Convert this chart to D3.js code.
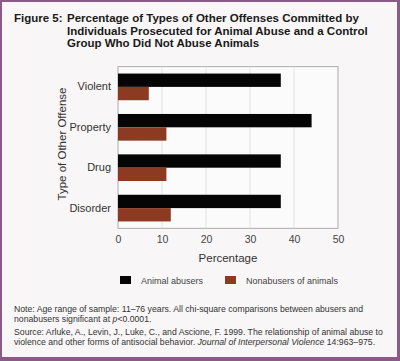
<!DOCTYPE html>
<html>
<head>
<meta charset="utf-8">
<script src="https://cdn.jsdelivr.net/npm/d3@7"></script>
<style>
  body { margin: 0; background: #fff; }
  svg { display: block; font-family: "Liberation Sans", Arial, sans-serif; }
</style>
</head>
<body>
<div id="chart"></div>
<script>
// values
var offenses = ["Violent", "Property", "Drug", "Disorder"];
var abusers = [37, 44, 37, 37];
var nonabusers = [7, 11, 11, 12];
var xTicks = [0, 10, 20, 30, 40, 50];
var seriesNames = ["Animal abusers", "Nonabusers of animals"];

var W = 400, H = 361;
var colors = ["#050505", "#8c3a22"];

var svg = d3.select("#chart").append("svg").attr("width", W).attr("height", H);

// page + purple frame
svg.append("rect").attr("x", 0).attr("y", 0).attr("width", W).attr("height", H).attr("fill", "#8a5a88");
svg.append("rect").attr("x", 2).attr("y", 2).attr("width", W - 5).attr("height", H - 6).attr("fill", "#f8f6f6");

// title
var title = svg.append("text").attr("font-size", "11.5px").attr("font-weight", "bold").attr("fill", "#1a1a1a");
title.append("tspan").attr("x", 14).attr("y", 22).text("Figure 5:");
title.append("tspan").attr("x", 67).attr("y", 22).text("Percentage of Types of Other Offenses Committed by");
title.append("tspan").attr("x", 67).attr("y", 34.5).text("Individuals Prosecuted for Animal Abuse and a Control");
title.append("tspan").attr("x", 67).attr("y", 47).text("Group Who Did Not Abuse Animals");

var m = {left: 118, right: 338, top: 66.7, bottom: 228.3};
var x = d3.scaleLinear().domain([0, 50]).range([m.left, m.right]);
var y = d3.scaleBand().domain(offenses).range([m.top, m.bottom]).paddingInner(0.34).paddingOuter(0.17);
var sub = d3.scaleBand().domain([0, 1]).range([0, y.bandwidth()]);

var g = svg.append("g");

// plot background and grid
g.append("rect").attr("x", m.left).attr("y", m.top).attr("width", m.right - m.left).attr("height", m.bottom - m.top)
  .attr("fill", "#fcfbfb").attr("stroke", "#9a9a9a").attr("stroke-width", 0.8);
g.selectAll(".grid").data(xTicks.slice(1, -1)).enter().append("line")
  .attr("x1", function (d) { return x(d); }).attr("x2", function (d) { return x(d); })
  .attr("y1", m.top).attr("y2", m.bottom)
  .attr("stroke", "#dddddd").attr("stroke-width", 0.8);

// bars
var rows = offenses.map(function (o, i) { return {name: o, vals: [abusers[i], nonabusers[i]]}; });
var grp = g.selectAll(".row").data(rows).enter().append("g")
  .attr("transform", function (d) { return "translate(0," + y(d.name) + ")"; });
grp.selectAll("rect").data(function (d) { return d.vals; }).enter().append("rect")
  .attr("x", x(0))
  .attr("y", function (d, i) { return sub(i); })
  .attr("width", function (d) { return x(d) - x(0); })
  .attr("height", sub.bandwidth())
  .attr("fill", function (d, i) { return colors[i]; });

// y axis category labels
var yAxis = d3.axisLeft(y).tickSize(0).tickPadding(7);
var ya = svg.append("g").attr("transform", "translate(" + m.left + ",0)").call(yAxis);
ya.select(".domain").remove();
ya.selectAll("text").attr("font-size", "11px").attr("fill", "#333").attr("font-family", "Liberation Sans, Arial, sans-serif");

// x axis
var xAxis = d3.axisBottom(x).tickValues(xTicks).tickSize(0).tickPadding(7);
var xa = svg.append("g").attr("transform", "translate(0," + m.bottom + ")").call(xAxis);
xa.select(".domain").remove();
xa.selectAll("text").attr("font-size", "10.5px").attr("fill", "#444").attr("font-family", "Liberation Sans, Arial, sans-serif");

svg.append("text").attr("x", (m.left + m.right) / 2).attr("y", 262).attr("text-anchor", "middle")
  .attr("font-size", "11.5px").attr("fill", "#333").text("Percentage");
svg.append("text").attr("transform", "translate(66,144) rotate(-90)").attr("text-anchor", "middle")
  .attr("font-size", "11.5px").attr("fill", "#333").text("Type of Other Offense");

// legend
var legX = [120, 225];
var leg = svg.selectAll(".leg").data(seriesNames).enter().append("g")
  .attr("transform", function (d, i) { return "translate(" + legX[i] + ",276)"; });
leg.append("rect").attr("width", 11).attr("height", 8).attr("fill", function (d, i) { return colors[i]; });
leg.append("text").attr("x", 21).attr("y", 7.5).attr("font-size", "9px").attr("fill", "#444").text(function (d) { return d; });

// notes
var notes = svg.append("text").attr("font-size", "8.7px").attr("fill", "#333");
notes.append("tspan").attr("x", 14).attr("y", 312).text("Note: Age range of sample: 11\u201376 years. All chi-square comparisons between abusers and");
var n2 = notes.append("tspan").attr("x", 14).attr("y", 322);
n2.append("tspan").text("nonabusers significant at ");
n2.append("tspan").attr("font-style", "italic").text("p");
n2.append("tspan").text("<0.0001.");
notes.append("tspan").attr("x", 14).attr("y", 335).text("Source: Arluke, A., Levin, J., Luke, C., and Ascione, F. 1999. The relationship of animal abuse to");
var n4 = notes.append("tspan").attr("x", 14).attr("y", 345);
n4.append("tspan").text("violence and other forms of antisocial behavior. ");
n4.append("tspan").attr("font-style", "italic").text("Journal of Interpersonal Violence");
n4.append("tspan").text(" 14:963\u2013975.");
</script>
</body>
</html>
